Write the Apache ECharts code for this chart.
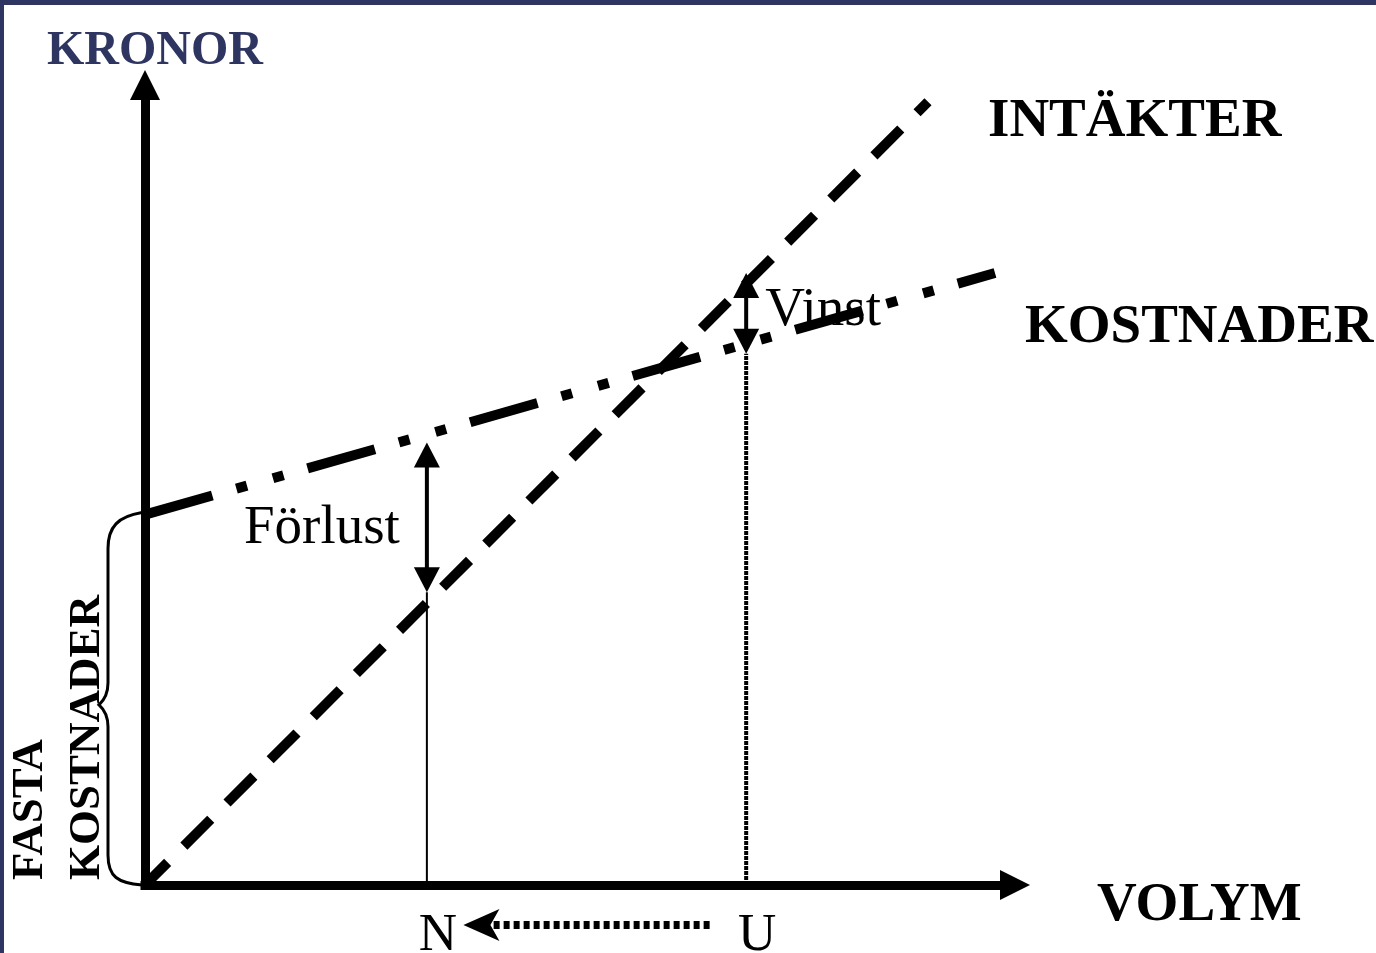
<!DOCTYPE html>
<html>
<head>
<meta charset="utf-8">
<title>Kronor / Volym</title>
<script src="https://cdn.jsdelivr.net/npm/echarts@6/dist/echarts.min.js"></script>
<style>
	html, body { margin: 0; padding: 0; background: #fff; }
	#chart { width: 1376px; height: 953px; box-shadow: inset 4px 5px 0 #2e3560; }
</style>
</head>
<body>
<div id="chart"></div>
<script>
	// axelenheter: volym 0..100, kronor 0..100
	const tickValues = [32.4, 69.1]          // N, U
	const tickLabels = ['N', 'U']
	const revenue = [[0, 0], [90, 97.9]]     // INTÄKTER
	const costs = [[0, 46.3], [97.7, 76.5]]  // KOSTNADER
	const lossArrow = [[32.4, 55.3, 36.6]]   // x, topp, botten
	const gainArrow = [[69.1, 76.5, 66.4]]
	const fixedBrace = [[0, 0, 46.3]]        // x, från, till
	const shiftArrow = [[64.9, 36.6, -5]]    // från, till, nivå
	const lineNames = ['INTÄKTER', 'KOSTNADER']

	const serif = '"Liberation Serif", "Times New Roman", serif'

	// lodräta hjälplinjer vid N och U
	const nLine = [[tickValues[0], 0], [lossArrow[0][0], lossArrow[0][2]]]
	const uLine = [[tickValues[1], 0], [gainArrow[0][0], gainArrow[0][2]]]

	function doubleArrow(label, dx, dy, align) {
		return function (params, api) {
			const top = api.coord([api.value(0), api.value(1)])
			const bot = api.coord([api.value(0), api.value(2)])
			const x = top[0]
			const hw = 13, hh = 25
			return {
				type: 'group',
				children: [
					{type: 'line', shape: {x1: x, y1: top[1] + hh - 2, x2: x, y2: bot[1] - hh + 2},
						style: {stroke: '#000', lineWidth: 4}},
					{type: 'polygon', shape: {points: [[x, top[1]], [x + hw, top[1] + hh], [x - hw, top[1] + hh]]},
						style: {fill: '#000'}},
					{type: 'polygon', shape: {points: [[x, bot[1]], [x + hw, bot[1] - hh], [x - hw, bot[1] - hh]]},
						style: {fill: '#000'}},
					{type: 'text', x: x + dx, y: (top[1] + bot[1]) / 2 + dy,
						style: {text: label, fontFamily: serif, fontSize: 55, fill: '#000', align: align, verticalAlign: 'middle'}}
				]
			}
		}
	}

	const nameOffsets = [[60, 20], [30, 55]]

	const chart = echarts.init(document.getElementById('chart'))
	chart.setOption({
		animation: false,
		grid: {left: 145, right: 361, top: 85, bottom: 68, outerBoundsMode: 'none'},
		xAxis: {
			type: 'value', min: 0, max: 100,
			name: 'VOLYM', nameLocation: 'end', nameGap: 82, nameMoveOverlap: false,
			nameTextStyle: {fontFamily: serif, fontWeight: 'bold', fontSize: 55, color: '#000',
				verticalAlign: 'top', lineHeight: 42},
			axisLine: {show: true, onZero: true, symbol: ['none', 'triangle'], symbolSize: [30, 30],
				lineStyle: {color: '#000', width: 9, cap: 'square'}},
			axisTick: {show: false},
			splitLine: {show: false},
			axisLabel: {
				customValues: tickValues,
				formatter: function (v) {
					const i = tickValues.findIndex(t => Math.abs(t - v) < 1e-6)
					return i < 0 ? '' : tickLabels[i]
				},
				fontFamily: serif, fontSize: 53, color: '#000', margin: 25, padding: [0, 0, 0, 22]
			}
		},
		yAxis: {
			type: 'value', min: 0, max: 100,
			name: 'KRONOR', nameLocation: 'end', nameGap: 9, nameMoveOverlap: false,
			nameTextStyle: {fontFamily: serif, fontWeight: 'bold', fontSize: 48, color: '#2e3560', padding: [0, 0, 0, 20]},
			axisLine: {show: true, onZero: true, symbol: ['none', 'triangle'], symbolSize: [30, 30],
				lineStyle: {color: '#000', width: 9, cap: 'square'}},
			axisTick: {show: false},
			axisLabel: {show: false},
			splitLine: {show: false}
		},
		series: [
			{
				name: 'fasta kostnader',
				type: 'custom',
				silent: true,
				data: fixedBrace,
				renderItem: function (params, api) {
					const b = api.coord([api.value(0), api.value(1)])
					const t = api.coord([api.value(0), api.value(2)])
					const x0 = b[0] - 3, xi = b[0] - 37, xt = b[0] - 46
					const m = (b[1] + t[1]) / 2 + 5
					const d = ['M', x0, t[1] - 2, 'C', x0 - 24, t[1] + 2, xi, t[1] + 12, xi, t[1] + 34,
						'L', xi, m - 22, 'Q', xi, m - 8, xt, m, 'Q', xi, m + 8, xi, m + 22,
						'L', xi, b[1] - 30, 'C', xi, b[1] - 8, x0 - 24, b[1] - 2, x0, b[1]].join(' ')
					return {
						type: 'group',
						children: [
							{type: 'text', x: b[0] - 115, y: b[1] - 5, rotation: Math.PI / 2,
								style: {text: 'FASTA', fontFamily: serif, fontWeight: 'bold', fontSize: 45, fill: '#000', align: 'left', verticalAlign: 'middle'}},
							{type: 'text', x: b[0] - 58, y: b[1] - 5, rotation: Math.PI / 2,
								style: {text: 'KOSTNADER', fontFamily: serif, fontWeight: 'bold', fontSize: 45, fill: '#000', align: 'left', verticalAlign: 'middle'}},
							{type: 'path', shape: {pathData: d}, style: {fill: 'none', stroke: '#000', lineWidth: 3}}
						]
					}
				}
			},
			{
				name: 'N', type: 'line', silent: true, symbol: 'none', data: nLine,
				lineStyle: {color: '#000', width: 2}
			},
			{
				name: 'U', type: 'line', silent: true, symbol: 'none', data: uLine,
				lineStyle: {color: '#000', width: 4, type: [4, 1]}
			},
			{
				name: 'Förlust', type: 'custom', silent: true, data: lossArrow,
				renderItem: doubleArrow('Förlust', -27, 11, 'right')
			},
			{
				name: 'Vinst', type: 'custom', silent: true, data: gainArrow,
				renderItem: doubleArrow('Vinst', 19, -3, 'left')
			},
			{
				name: 'U till N', type: 'custom', silent: true, data: shiftArrow,
				renderItem: function (params, api) {
					const from = api.coord([api.value(0), api.value(2)])
					const to = api.coord([api.value(1), api.value(2)])
					const tx = to[0], ty = to[1]
					return {
						type: 'group',
						children: [
							{type: 'line', shape: {x1: from[0], y1: from[1], x2: tx + 28, y2: ty},
								style: {stroke: '#000', lineWidth: 8, lineDash: [6, 4]}},
							{type: 'polygon', shape: {points: [[tx, ty], [tx + 36, ty - 16], [tx + 27, ty], [tx + 36, ty + 16]]},
								style: {fill: '#000'}}
						]
					}
				}
			},
			{
				name: 'namn', type: 'custom', silent: true,
				data: [revenue[revenue.length - 1], costs[costs.length - 1]],
				renderItem: function (params, api) {
					const p = api.coord([api.value(0), api.value(1)])
					const off = nameOffsets[params.dataIndex]
					return {
						type: 'text', x: p[0] + off[0], y: p[1] + off[1],
						style: {text: lineNames[params.dataIndex], fontFamily: serif, fontWeight: 'bold', fontSize: 55,
							fill: '#000', align: 'left', verticalAlign: 'middle'}
					}
				}
			},
			{
				name: 'INTÄKTER', type: 'line', silent: true, symbol: 'none', data: revenue,
				lineStyle: {color: '#000', width: 10, type: [38, 23], dashOffset: 6}
			},
			{
				name: 'KOSTNADER', type: 'line', silent: true, symbol: 'none', data: costs,
				lineStyle: {color: '#000', width: 10, type: [70, 25, 11, 27, 11, 25]}
			}
		]
	})
</script>
</body>
</html>
